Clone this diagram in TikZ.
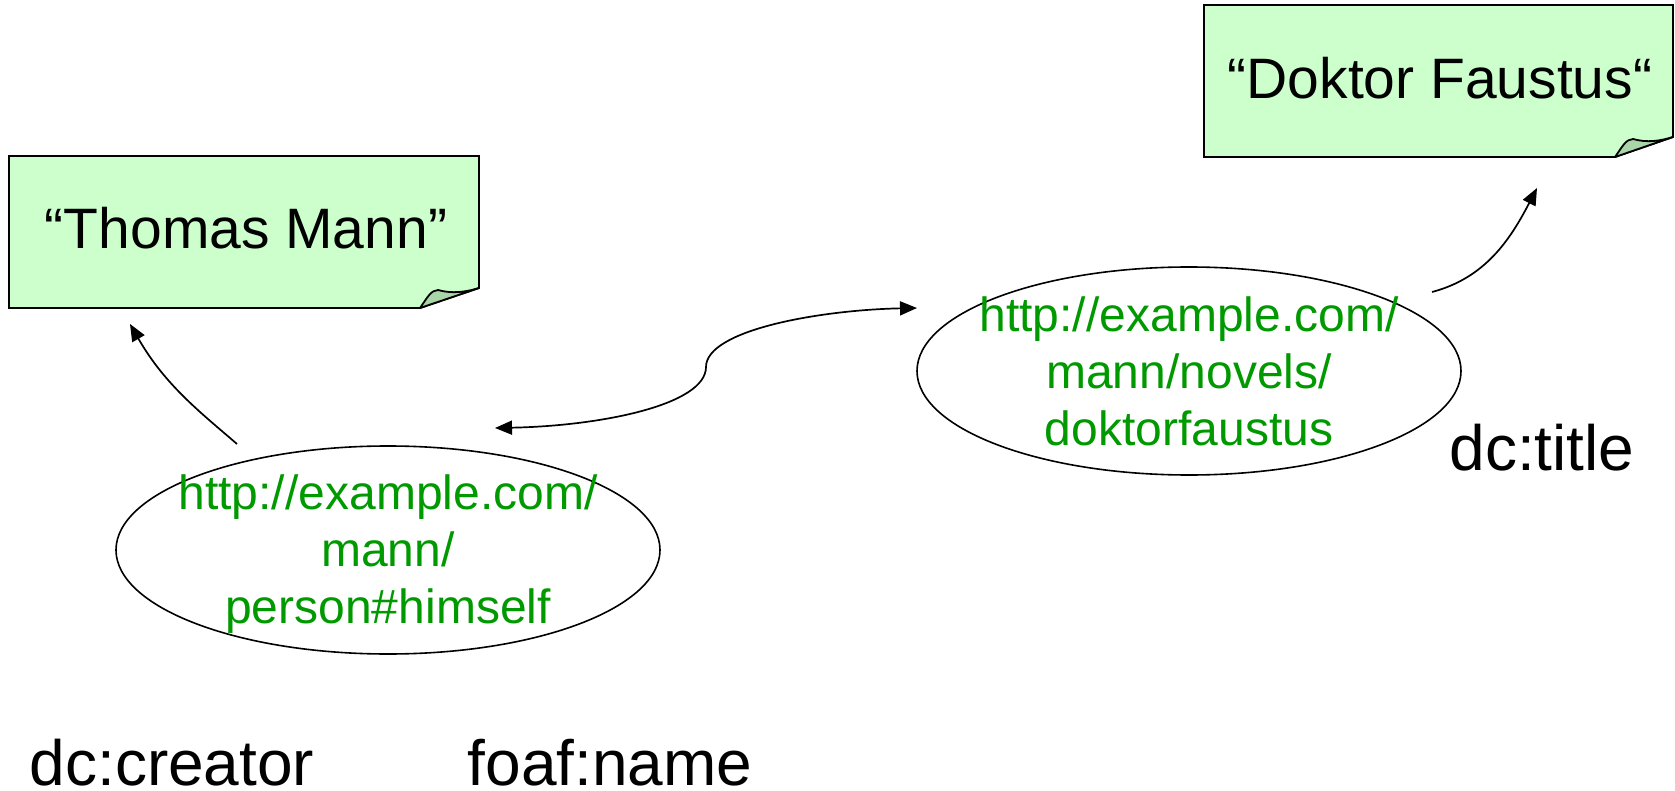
\documentclass[tikz,border=0pt]{standalone}
\usepackage{fontspec}
\setmainfont{Liberation Sans}
\usetikzlibrary{arrows.meta,shapes.geometric}
\definecolor{notefill}{HTML}{CCFFCC}
\definecolor{flapfill}{HTML}{A9D5A9}
\definecolor{urigreen}{HTML}{009900}
\begin{document}
\begin{tikzpicture}[x=1pt,y=-1pt,
  notebg/.style={fill=notefill,draw=black,line width=1.8pt,line join=miter},
  flap/.style={fill=flapfill,draw=black,line width=1.8pt,line join=round},
  notetext/.style={font=\fontsize{57}{64}\selectfont,inner sep=0pt},
  res/.style={ellipse,draw=black,line width=1.6pt,minimum width=544pt,minimum height=208pt,inner sep=0pt},
  restext/.style={text=urigreen,align=center,font=\fontsize{48}{57}\selectfont,inner sep=0pt},
  proplabel/.style={font=\fontsize{64}{70}\selectfont,inner sep=0pt,anchor=base},
  arr/.style={line width=1.7pt,-{Triangle[length=17pt,width=14pt]}},
  arrboth/.style={line width=1.7pt,{Triangle[length=17pt,width=14pt]}-{Triangle[length=17pt,width=14pt]}},
]
\useasboundingbox (0,0) rectangle (1675,791);

% note "Thomas Mann"
\path[notebg] (9,156) -- (479,156) -- (479,288) -- (420,308) -- (9,308) -- cycle;
\path[flap] (420,308) .. controls (427,298) and (431,290) .. (438,290)
  .. controls (452,294) and (466,292) .. (479,288) -- cycle;
\node[notetext] (tm) at (246,228) {“Thomas Mann”};

% note "Doktor Faustus"
\path[notebg] (1204,5) -- (1673,5) -- (1673,137) -- (1615,157) -- (1204,157) -- cycle;
\path[flap] (1615,157) .. controls (1622,147) and (1626,139) .. (1633,139)
  .. controls (1647,143) and (1660,141) .. (1673,137) -- cycle;
\node[notetext] (df) at (1440,78) {“Doktor Faustus“};

% resources
\node[res] (person) at (388,550) {};
\node[restext] (persont) at ([yshift=-4pt]person.center) {http://example.com/\\mann/\\person\#himself};
\node[res] (novel) at (1189,371) {};
\node[restext] (novelt) at (novel.center) {http://example.com/\\mann/novels/\\doktorfaustus};

% property labels
\node[proplabel] (creator) at (172,785) {dc:creator};
\node[proplabel] (fname) at (610,785) {foaf:name};
\node[proplabel] (title) at (1542,470) {dc:title};

% connectors
\coordinate (a1s) at (237,444);
\coordinate (a1e) at (130,324);
\draw[arr] (a1s) .. controls (200,412) and (165,385) .. (a1e);

\coordinate (a2s) at (1432,292);
\coordinate (a2e) at (1537,188);
\draw[arr] (a2s) .. controls (1485,278) and (1510,240) .. (a2e);

\coordinate (dL) at (495,428);
\coordinate (dM) at (706,367);
\coordinate (dR) at (917,308);
\draw[arrboth] (dL) .. controls (600,426) and (706,405) .. (dM)
  .. controls (706,330) and (820,310) .. (dR);
\end{tikzpicture}
\end{document}
